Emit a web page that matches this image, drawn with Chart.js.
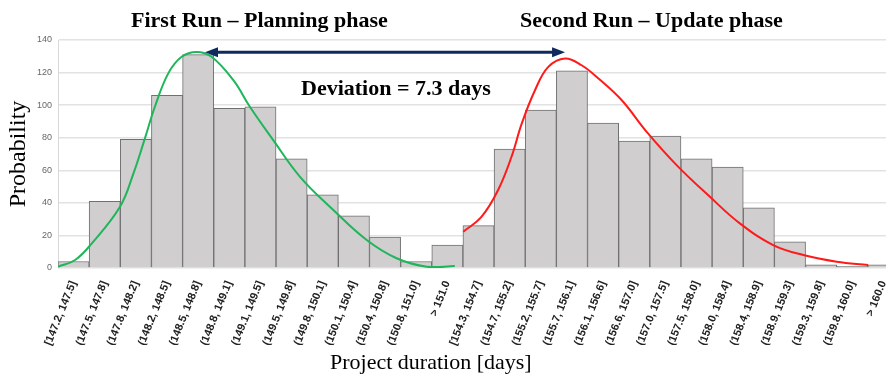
<!DOCTYPE html>
<html>
<head>
<meta charset="utf-8">
<script src="https://cdn.jsdelivr.net/npm/chart.js@4/dist/chart.umd.min.js"></script>
<style>
    html, body { margin: 0; padding: 0; background: #fff; overflow: hidden; }
    #wrap { position: relative; width: 886px; height: 378px; overflow: hidden; }
    canvas { position: absolute; left: 0; top: 0; }
    .note {
        position: absolute;
        font-family: 'Liberation Serif', 'Times New Roman', serif;
        font-weight: bold;
        font-size: 22px;
        color: #000;
        white-space: nowrap;
        line-height: 1;
    }
    .axisname {
        position: absolute;
        font-family: 'Liberation Serif', 'Times New Roman', serif;
        font-size: 22px;
        color: #000;
        white-space: nowrap;
        line-height: 1;
    }
</style>
</head>
<body>
<div id="wrap">
    <canvas id="graphRuns" width="899" height="378"></canvas>
    <div class="note" style="left:131px; top:9px;">First Run – Planning phase</div>
    <div class="note" style="left:520px; top:9px;">Second Run – Update phase</div>
    <div class="note" style="left:301px; top:77px;">Deviation = 7.3 days</div>
    <div class="axisname" style="left:330px; top:351px;">Project duration [days]</div>
</div>

<script>
// bins premier run
const firstLabels = ['[147.2, 147.5]', '(147.5, 147.8]', '(147.8, 148.2]', '(148.2, 148.5]',
    '(148.5, 148.8]', '(148.8, 149.1]', '(149.1, 149.5]', '(149.5, 149.8]', '(149.8, 150.1]',
    '(150.1, 150.4]', '(150.4, 150.8]', '(150.8, 151.0]', '> 151.0'];
const firstCounts = [4, 41, 79, 106, 131, 98, 99, 67, 45, 32, 19, 4, 14];

// bins second run
const secondLabels = ['[154.3, 154.7]', '(154.7, 155.2]', '(155.2, 155.7]', '(155.7, 156.1]',
    '(156.1, 156.6]', '(156.6, 157.0]', '(157.0, 157.5]', '(157.5, 158.0]', '(158.0, 158.4]',
    '(158.4, 158.9]', '(158.9, 159.3]', '(159.3, 159.8]', '(159.8, 160.0]', '> 160.0'];
const secondCounts = [26, 73, 97, 121, 89, 78, 81, 67, 62, 37, 16, 2, 1, 2];

// fitted curves, x in bin units (0 = left edge of first bin)
const greenX = [0.01, 0.55, 1.08, 1.99, 2.42, 2.79, 3.11, 3.54, 3.97, 4.45, 4.93, 5.63, 6.16,
    6.91, 7.77, 8.84, 9.91, 10.87, 11.84, 12.74];
const greenY = [0.8, 4.9, 15, 37.6, 58, 79.6, 99, 119.5, 129.7, 132.7, 129.7, 115.3, 99,
    78.5, 56, 35.6, 17.2, 6, 0.8, 1.2];

const redX = [13.01, 13.6, 14.13, 14.56, 14.89, 15.31, 15.74, 16.28, 16.81, 17.35, 18.1,
    18.9, 19.86, 20.93, 21.89, 22.96, 23.93, 25.0, 26.01];
const redY = [22.3, 31.5, 47.9, 68.3, 88.8, 109, 123.5, 128.7, 124.5, 116.4, 103,
    83.6, 63.2, 43.7, 27.4, 14.1, 8, 3.9, 1.8];

const yTicks = [0, 20, 40, 60, 80, 100, 120, 140];

// deviation arrow between the two peaks
const arrow = { from: 4.72, to: 16.28, at: 132.5 };

const allLabels = firstLabels.concat(secondLabels);
const nBins = allLabels.length;

function curve(xs, ys) {
    return xs.map((x, i) => ({ x: x, y: ys[i] }));
}

// fleche double
const arrowPlugin = {
    id: 'arrowPlugin',
    afterDatasetsDraw(chart) {
        const ctx = chart.ctx;
        const xs = chart.scales.xc;
        const ys = chart.scales.y;
        const x1 = xs.getPixelForValue(arrow.from);
        const x2 = xs.getPixelForValue(arrow.to);
        const y = ys.getPixelForValue(arrow.at);
        const head = 13, half = 5;
        ctx.save();
        ctx.strokeStyle = '#0f2a5e';
        ctx.fillStyle = '#0f2a5e';
        ctx.lineWidth = 3;
        ctx.beginPath();
        ctx.moveTo(x1 + head - 2, y);
        ctx.lineTo(x2 - head + 2, y);
        ctx.stroke();
        ctx.beginPath();
        ctx.moveTo(x1, y);
        ctx.lineTo(x1 + head, y - half);
        ctx.lineTo(x1 + head, y + half);
        ctx.closePath();
        ctx.fill();
        ctx.beginPath();
        ctx.moveTo(x2, y);
        ctx.lineTo(x2 - head, y - half);
        ctx.lineTo(x2 - head, y + half);
        ctx.closePath();
        ctx.fill();
        ctx.restore();
    }
};

const data = {
    labels: allLabels,
    datasets: [{
        type: 'line',
        label: 'first fit',
        data: curve(greenX, greenY),
        xAxisID: 'xc',
        borderColor: '#1fb55a',
        borderWidth: 2,
        pointRadius: 0,
        tension: 0.4,
        fill: false,
        order: 0
    }, {
        type: 'line',
        label: 'second fit',
        data: curve(redX, redY),
        xAxisID: 'xc',
        borderColor: '#ff1a1a',
        borderWidth: 2,
        pointRadius: 0,
        tension: 0.4,
        fill: false,
        order: 0
    }, {
        type: 'bar',
        label: 'Probability',
        data: firstCounts.concat(secondCounts),
        xAxisID: 'x',
        backgroundColor: '#d0cecf',
        borderColor: '#707070',
        borderWidth: 1,
        grouped: false,
        categoryPercentage: 1,
        barPercentage: 1,
        order: 1
    }]
};

const config = {
    type: 'bar',
    data: data,
    plugins: [arrowPlugin],
    options: {
        responsive: false,
        animation: false,
        layout: {
            padding: { top: 40, left: 0, right: 0, bottom: 0 }
        },
        plugins: {
            legend: { display: false },
            tooltip: { enabled: false }
        },
        scales: {
            x: {
                type: 'category',
                offset: true,
                grid: { display: false },
                border: { display: false },
                afterFit: axis => {
                    axis.height = 110;
                    axis.paddingLeft = 0;
                    axis.paddingRight = 0;
                },
                ticks: {
                    autoSkip: false,
                    minRotation: 68,
                    maxRotation: 68,
                    padding: 3,
                    color: '#222',
                    font: { family: "'Liberation Sans', Arial, sans-serif", size: 11, weight: 'bold' }
                }
            },
            xc: {
                type: 'linear',
                min: 0,
                max: nBins,
                offset: false,
                display: false
            },
            y: {
                min: 0,
                max: 140,
                afterBuildTicks: axis => {
                    axis.ticks = yTicks.map(v => ({ value: v }));
                },
                afterFit: axis => {
                    axis.width = 58;
                    axis.paddingTop = 0;
                    axis.paddingBottom = 0;
                },
                grid: { color: '#e2e2e2', lineWidth: 1.5, drawTicks: false },
                border: { display: true, color: '#d8d8d8', width: 1 },
                ticks: {
                    padding: 6,
                    color: '#666',
                    font: { family: "'Liberation Sans Narrow', 'Liberation Sans', sans-serif", size: 9 }
                },
                title: {
                    display: true,
                    text: 'Probability',
                    color: '#000',
                    padding: { top: 4, bottom: 0 },
                    font: { family: "'Liberation Serif', 'Times New Roman', serif", size: 24 }
                }
            }
        }
    }
};

const runsChart = new Chart(
    document.getElementById('graphRuns'),
    config
);
</script>
</body>
</html>
